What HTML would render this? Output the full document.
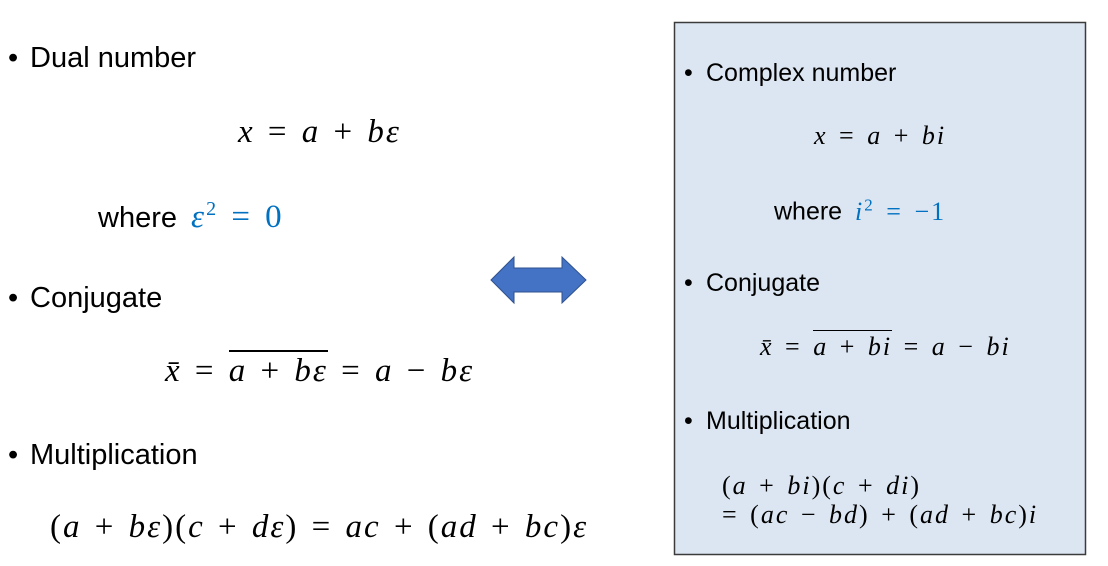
<!DOCTYPE html>
<html><head><meta charset="utf-8"><style>
body{margin:0;width:1108px;height:566px;background:#fff;position:relative;overflow:hidden;font-family:"Liberation Sans",sans-serif;color:#000}
.a{position:absolute;white-space:nowrap}
.t{font-size:29px}
.s{font-size:25px}
.bl{display:inline-block;width:22px}
.bs{display:inline-block;width:22px}
.m{font-family:"Liberation Serif","DejaVu Serif",serif;font-style:italic;font-size:33px;letter-spacing:2px;word-spacing:3px}
.ms{font-family:"Liberation Serif","DejaVu Serif",serif;font-style:italic;font-size:26px;letter-spacing:2px;word-spacing:3px}
.n{font-style:normal}
.b{color:#0070c0}
</style></head><body>
<div class="a t" style="left:8px;top:42px"><span class="bl">•</span>Dual number</div>
<div class="a m" style="left:238px;top:114px">x <span class="n">=</span> a <span class="n">+</span> bε</div>
<div class="a t" style="left:98px;top:198px">where <span class="m b" style="margin-left:6px">ε<sup style="font-size:20px;font-style:normal">2</sup> <span class="n">= 0</span></span></div>
<div class="a t" style="left:8px;top:282px"><span class="bl">•</span>Conjugate</div>
<div class="a m" style="left:165px;top:353px">x̄ <span class="n">=</span> <span style="border-top:2px solid #000;padding-top:1px">a <span class="n">+</span> bε</span> <span class="n">=</span> a <span class="n">−</span> bε</div>
<div class="a t" style="left:8px;top:439px"><span class="bl">•</span>Multiplication</div>
<div class="a m" style="left:50px;top:509px"><span class="n">(</span>a <span class="n">+</span> bε<span class="n">)(</span>c <span class="n">+</span> dε<span class="n">) =</span> ac <span class="n">+ (</span>ad <span class="n">+</span> bc<span class="n">)</span>ε</div>
<svg class="a" style="left:0;top:0" width="1108" height="566">
<polygon points="491,280 514,257 514,268 562,268 562,257 586,280 562,303 562,292 514,292 514,303" fill="#4472c4" stroke="#2f528f" stroke-width="1"/>
<rect x="674.5" y="22.5" width="411" height="532" fill="#dce6f2" stroke="#3b3b3b" stroke-width="1.5"/>
</svg>
<div class="a s" style="left:684px;top:59px"><span class="bs">•</span>Complex number</div>
<div class="a ms" style="left:814px;top:121px">x <span class="n">=</span> a <span class="n">+</span> bi</div>
<div class="a s" style="left:774px;top:195px">where <span class="ms b" style="margin-left:6px">i<sup style="font-size:17px;font-style:normal">2</sup> <span class="n">= −1</span></span></div>
<div class="a s" style="left:684px;top:269px"><span class="bs">•</span>Conjugate</div>
<div class="a ms" style="left:760px;top:332px">x̄ <span class="n">=</span> <span style="border-top:1.5px solid #000;padding-top:1px">a <span class="n">+</span> bi</span> <span class="n">=</span> a <span class="n">−</span> bi</div>
<div class="a s" style="left:684px;top:407px"><span class="bs">•</span>Multiplication</div>
<div class="a ms" style="left:722px;top:471px;line-height:29px"><span class="n">(</span>a <span class="n">+</span> bi<span class="n">)(</span>c <span class="n">+</span> di<span class="n">)</span><br><span class="n">= (</span>ac <span class="n">−</span> bd<span class="n">) + (</span>ad <span class="n">+</span> bc<span class="n">)</span>i</div>
</body></html>
